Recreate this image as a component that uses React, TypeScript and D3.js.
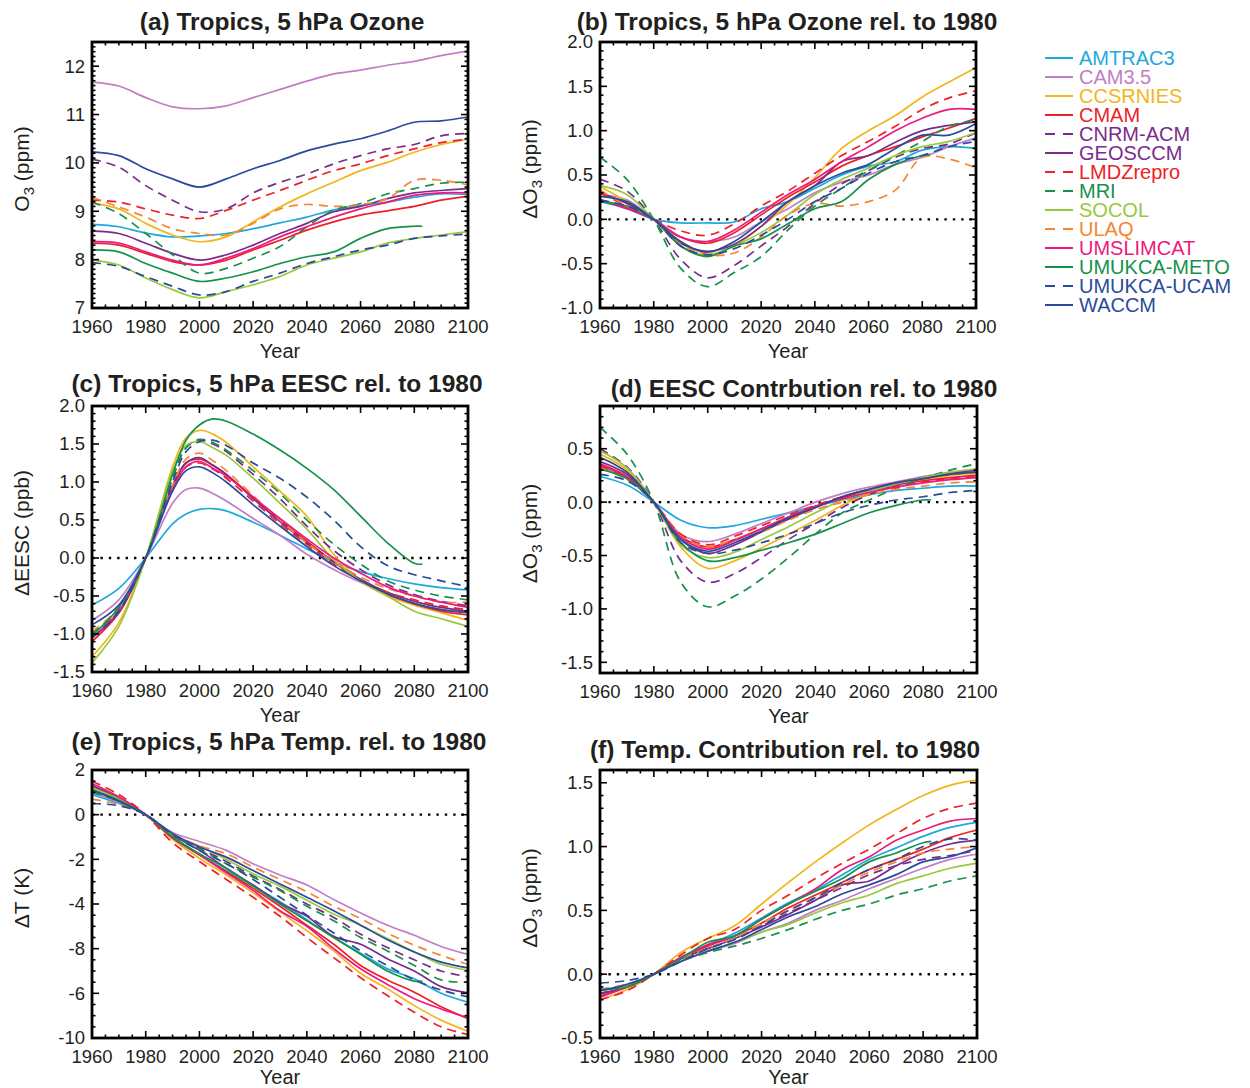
import React from "react";
import * as d3 from "d3";

// ---- data ----
const models = ["AMTRAC3", "CAM3.5", "CCSRNIES", "CMAM", "CNRM-ACM", "GEOSCCM", "LMDZrepro", "MRI", "SOCOL", "ULAQ", "UMSLIMCAT", "UMUKCA-METO", "UMUKCA-UCAM", "WACCM"];
const colors = ["#1ea9dd", "#c27ec5", "#f2b51c", "#ee2028", "#7a2c8b", "#7a2c8b", "#ee2028", "#15924a", "#98c93c", "#f58632", "#ec1a7d", "#15924a", "#2a4b9b", "#2a4b9b"];
const dashed = [false, false, false, false, true, false, true, true, false, true, false, false, true, false];
const shortRun = "UMUKCA-METO"; // this model stops in 2083

const years = [1960, 1970, 1980, 1990, 2000, 2010, 2020, 2030, 2040, 2050, 2060, 2070, 2080, 2090, 2100];
const eescYears = [1960, 1970, 1980, 1990, 1995, 2000, 2005, 2010, 2020, 2030, 2040, 2050, 2060, 2070, 2080, 2090, 2100];

// (a) ozone, ppm
const ozone = [
  [8.73, 8.68, 8.55, 8.47, 8.49, 8.54, 8.64, 8.76, 8.88, 9.03, 9.12, 9.19, 9.29, 9.36, 9.34],
  [11.67, 11.59, 11.35, 11.16, 11.12, 11.18, 11.35, 11.52, 11.69, 11.84, 11.92, 12.02, 12.1, 12.22, 12.31],
  [9.17, 9.05, 8.75, 8.51, 8.37, 8.47, 8.78, 9.09, 9.36, 9.6, 9.84, 10.01, 10.22, 10.38, 10.49],
  [8.34, 8.3, 8.13, 7.96, 7.89, 7.99, 8.2, 8.4, 8.61, 8.78, 8.92, 9.01, 9.1, 9.23, 9.31],
  [10.08, 9.91, 9.53, 9.23, 8.99, 9.05, 9.38, 9.6, 9.77, 9.98, 10.15, 10.29, 10.38, 10.56, 10.61],
  [8.59, 8.54, 8.34, 8.13, 7.99, 8.1, 8.3, 8.54, 8.75, 8.99, 9.1, 9.26, 9.38, 9.43, 9.47],
  [9.23, 9.19, 9.05, 8.92, 8.85, 9.02, 9.23, 9.43, 9.64, 9.84, 9.98, 10.15, 10.29, 10.42, 10.49],
  [9.19, 8.95, 8.54, 8.1, 7.72, 7.82, 8.03, 8.27, 8.68, 9.02, 9.16, 9.36, 9.47, 9.58, 9.6],
  [7.99, 7.89, 7.62, 7.38, 7.21, 7.34, 7.48, 7.65, 7.89, 8.03, 8.16, 8.34, 8.44, 8.51, 8.58],
  [9.29, 9.09, 8.88, 8.64, 8.54, 8.51, 8.75, 9.05, 9.14, 9.1, 9.14, 9.26, 9.64, 9.64, 9.55],
  [8.37, 8.34, 8.16, 7.99, 7.89, 8.03, 8.23, 8.47, 8.68, 8.88, 9.05, 9.19, 9.33, 9.38, 9.38],
  [8.2, 8.16, 7.92, 7.72, 7.55, 7.62, 7.75, 7.92, 8.06, 8.16, 8.44, 8.64, 8.69, 8.69],
  [7.94, 7.86, 7.65, 7.45, 7.27, 7.34, 7.55, 7.72, 7.92, 8.06, 8.2, 8.3, 8.44, 8.49, 8.53],
  [10.23, 10.15, 9.88, 9.67, 9.5, 9.67, 9.88, 10.05, 10.25, 10.39, 10.5, 10.66, 10.84, 10.87, 10.95],
];

// (b) ozone change rel. to 1980, ppm
const ozoneRel = [
  [0.2, 0.12, 0, -0.04, -0.04, -0.03, 0.12, 0.2, 0.35, 0.5, 0.6, 0.65, 0.78, 0.82, 0.8],
  [0.28, 0.22, 0, -0.2, -0.25, -0.2, -0.03, 0.12, 0.3, 0.42, 0.5, 0.62, 0.7, 0.82, 0.92],
  [0.37, 0.2, 0, -0.25, -0.39, -0.3, -0.08, 0.17, 0.47, 0.8, 1.0, 1.17, 1.38, 1.55, 1.71],
  [0.22, 0.13, 0, -0.2, -0.27, -0.15, 0.05, 0.25, 0.42, 0.6, 0.72, 0.82, 0.93, 1.03, 1.14],
  [0.45, 0.32, 0, -0.45, -0.66, -0.52, -0.3, -0.08, 0.18, 0.4, 0.55, 0.7, 0.8, 0.85, 0.98],
  [0.3, 0.18, 0, -0.27, -0.36, -0.28, -0.08, 0.2, 0.38, 0.65, 0.72, 0.87, 1.0, 1.06, 1.1],
  [0.3, 0.15, 0, -0.13, -0.18, -0.05, 0.15, 0.32, 0.52, 0.72, 0.88, 1.05, 1.24, 1.37, 1.45],
  [0.7, 0.45, 0, -0.55, -0.76, -0.6, -0.42, -0.12, 0.15, 0.35, 0.55, 0.72, 0.88, 1.05, 1.12],
  [0.38, 0.28, 0, -0.3, -0.41, -0.3, -0.15, 0.05, 0.28, 0.45, 0.58, 0.72, 0.82, 0.88, 0.98],
  [0.33, 0.15, 0, -0.28, -0.4, -0.38, -0.2, 0.05, 0.18, 0.15, 0.2, 0.33, 0.7, 0.68, 0.58],
  [0.22, 0.12, 0, -0.2, -0.25, -0.12, 0.08, 0.28, 0.45, 0.65, 0.82, 1.0, 1.14, 1.24, 1.24],
  [0.2, 0.15, 0, -0.3, -0.42, -0.3, -0.22, -0.05, 0.12, 0.2, 0.45, 0.62, 0.72, 0.73],
  [0.22, 0.15, 0, -0.3, -0.4, -0.33, -0.18, 0.0, 0.2, 0.35, 0.52, 0.65, 0.72, 0.82, 0.88],
  [0.26, 0.2, 0, -0.25, -0.37, -0.25, -0.03, 0.2, 0.38, 0.52, 0.62, 0.8, 0.95, 0.95, 1.08],
];

// (c) EESC change rel. to 1980, ppb (on eescYears)
const eesc = [
  [-0.62, -0.4, 0, 0.45, 0.58, 0.64, 0.65, 0.62, 0.47, 0.3, 0.12, -0.05, -0.18, -0.27, -0.34, -0.39, -0.42],
  [-0.82, -0.55, 0, 0.72, 0.9, 0.92, 0.85, 0.75, 0.52, 0.3, 0.05, -0.15, -0.32, -0.47, -0.6, -0.68, -0.72],
  [-1.3, -0.85, 0, 1.2, 1.58, 1.68, 1.63, 1.52, 1.2, 0.88, 0.55, 0.05, -0.3, -0.5, -0.62, -0.72, -0.82],
  [-1.1, -0.72, 0, 0.95, 1.25, 1.3, 1.22, 1.1, 0.8, 0.5, 0.22, -0.05, -0.3, -0.48, -0.6, -0.7, -0.75],
  [-1.0, -0.68, 0, 1.05, 1.45, 1.55, 1.5, 1.4, 1.1, 0.78, 0.42, 0.1, -0.15, -0.35, -0.48, -0.57, -0.63],
  [-1.05, -0.72, 0, 0.95, 1.25, 1.32, 1.22, 1.1, 0.78, 0.48, 0.2, -0.05, -0.28, -0.45, -0.57, -0.65, -0.7],
  [-1.05, -0.7, 0, 0.92, 1.2, 1.25, 1.17, 1.05, 0.75, 0.45, 0.18, -0.08, -0.3, -0.45, -0.55, -0.63, -0.68],
  [-1.0, -0.66, 0, 1.05, 1.45, 1.56, 1.52, 1.42, 1.15, 0.85, 0.5, 0.18, -0.08, -0.3, -0.42, -0.5, -0.55],
  [-1.38, -0.9, 0, 1.15, 1.48, 1.53, 1.45, 1.35, 1.05, 0.72, 0.38, -0.02, -0.3, -0.5, -0.7, -0.8, -0.9],
  [-0.97, -0.65, 0, 0.95, 1.3, 1.38, 1.28, 1.15, 0.82, 0.5, 0.2, -0.05, -0.25, -0.4, -0.5, -0.58, -0.58],
  [-1.05, -0.7, 0, 0.9, 1.2, 1.27, 1.18, 1.08, 0.8, 0.52, 0.25, 0.0, -0.2, -0.38, -0.5, -0.58, -0.65],
  [-1.02, -0.65, 0, 1.1, 1.55, 1.75, 1.83, 1.8, 1.63, 1.42, 1.18, 0.9, 0.55, 0.2, -0.07, -0.08],
  [-1.05, -0.7, 0, 1.0, 1.4, 1.53, 1.55, 1.48, 1.25, 1.05, 0.8, 0.5, 0.15, -0.1, -0.22, -0.3, -0.38],
  [-0.88, -0.62, 0, 0.88, 1.15, 1.2, 1.12, 1.0, 0.7, 0.42, 0.15, -0.1, -0.3, -0.47, -0.6, -0.68, -0.72],
];

// (d) EESC contribution to ozone rel. to 1980, ppm
const eescContrib = [
  [0.24, 0.16, 0, -0.17, -0.24, -0.22, -0.16, -0.1, -0.04, 0.02, 0.07, 0.11, 0.13, 0.15, 0.15],
  [0.33, 0.22, 0, -0.3, -0.37, -0.3, -0.2, -0.1, 0.0, 0.08, 0.14, 0.19, 0.24, 0.28, 0.31],
  [0.45, 0.3, 0, -0.42, -0.62, -0.55, -0.43, -0.3, -0.17, -0.03, 0.08, 0.16, 0.21, 0.25, 0.27],
  [0.36, 0.24, 0, -0.32, -0.42, -0.35, -0.25, -0.14, -0.04, 0.04, 0.1, 0.16, 0.2, 0.23, 0.25],
  [0.5, 0.33, 0, -0.55, -0.75, -0.67, -0.52, -0.35, -0.2, -0.05, 0.07, 0.16, 0.22, 0.26, 0.28],
  [0.38, 0.26, 0, -0.35, -0.48, -0.4, -0.28, -0.16, -0.05, 0.05, 0.12, 0.18, 0.23, 0.27, 0.3],
  [0.34, 0.22, 0, -0.3, -0.4, -0.32, -0.22, -0.12, -0.03, 0.05, 0.1, 0.15, 0.19, 0.22, 0.24],
  [0.7, 0.45, 0, -0.75, -0.98, -0.88, -0.72, -0.52, -0.3, -0.1, 0.02, 0.13, 0.22, 0.3, 0.36],
  [0.48, 0.32, 0, -0.4, -0.52, -0.47, -0.35, -0.23, -0.1, 0.02, 0.1, 0.17, 0.23, 0.28, 0.31],
  [0.32, 0.21, 0, -0.32, -0.42, -0.35, -0.28, -0.17, -0.07, 0.0, 0.07, 0.12, 0.15, 0.18, 0.19],
  [0.35, 0.23, 0, -0.33, -0.44, -0.36, -0.25, -0.14, -0.04, 0.03, 0.09, 0.14, 0.18, 0.21, 0.23],
  [0.31, 0.22, 0, -0.38, -0.55, -0.52, -0.45, -0.38, -0.3, -0.2, -0.1, -0.03, 0.02, 0.02],
  [0.26, 0.2, 0, -0.38, -0.48, -0.45, -0.38, -0.3, -0.2, -0.1, -0.03, 0.02, 0.05, 0.09, 0.11],
  [0.42, 0.28, 0, -0.35, -0.46, -0.38, -0.27, -0.15, -0.05, 0.05, 0.12, 0.18, 0.22, 0.26, 0.28],
];

// (e) temperature change rel. to 1980, K
const temp = [
  [0.9, 0.5, 0, -1.0, -1.8, -2.5, -3.2, -3.9, -4.7, -5.5, -6.2, -6.9, -7.35, -8.0, -8.4],
  [1.0, 0.55, 0, -0.8, -1.2, -1.6, -2.2, -2.7, -3.15, -3.8, -4.4, -4.95, -5.4, -5.9, -6.26],
  [1.2, 0.7, 0, -1.1, -1.95, -2.7, -3.5, -4.35, -5.2, -6.1, -7.1, -7.8, -8.55, -9.2, -9.7],
  [1.3, 0.75, 0, -1.05, -1.8, -2.55, -3.3, -4.1, -4.95, -5.8, -6.75, -7.4, -7.95, -8.6, -9.13],
  [1.2, 0.7, 0, -0.9, -1.5, -2.1, -2.75, -3.35, -4.0, -4.6, -5.35, -5.95, -6.5, -7.0, -7.26],
  [1.3, 0.7, 0, -0.9, -1.6, -2.4, -3.15, -3.95, -4.55, -5.45, -5.8, -6.45, -7.0, -7.7, -7.98],
  [1.5, 0.9, 0, -1.25, -2.1, -2.9, -3.7, -4.55, -5.5, -6.4, -7.3, -8.1, -8.85, -9.5, -9.85],
  [1.0, 0.6, 0, -0.9, -1.55, -2.2, -2.8, -3.4, -4.1, -4.75, -5.5, -6.1, -6.75, -7.4, -7.5],
  [1.2, 0.7, 0, -0.9, -1.4, -2.0, -2.65, -3.2, -3.83, -4.45, -4.95, -5.55, -6.15, -6.7, -6.97],
  [0.7, 0.45, 0, -0.85, -1.4, -1.75, -2.35, -2.9, -3.45, -4.1, -4.65, -5.3, -5.85, -6.3, -6.71],
  [1.4, 0.8, 0, -1.0, -1.8, -2.6, -3.4, -4.3, -5.0, -6.0, -6.9, -7.6, -8.24, -8.7, -9.1],
  [1.1, 0.65, 0, -1.0, -1.75, -2.4, -3.2, -4.0, -4.75, -5.5, -6.25, -7.0, -7.45, -7.45],
  [0.5, 0.4, 0, -0.9, -1.6, -2.2, -2.9, -3.7, -4.5, -5.3, -6.1, -6.75, -7.4, -7.85, -8.16],
  [1.1, 0.6, 0, -0.85, -1.45, -1.9, -2.5, -3.1, -3.7, -4.3, -4.95, -5.6, -6.15, -6.6, -6.86],
];
// the figure's y labels for -6 and -8 are printed swapped; kept as drawn
const tempTicks = [-10, -8, -6, -4, -2, 0, 2];
const tempTickLabels = ["-10", "-6", "-8", "-4", "-2", "0", "2"];

// (f) temperature contribution to ozone rel. to 1980, ppm
const tempContrib = [
  [-0.15, -0.1, 0, 0.13, 0.23, 0.32, 0.44, 0.56, 0.66, 0.78, 0.9, 0.99, 1.08, 1.15, 1.19],
  [-0.15, -0.1, 0, 0.1, 0.18, 0.24, 0.33, 0.4, 0.5, 0.58, 0.67, 0.75, 0.83, 0.9, 0.94],
  [-0.2, -0.12, 0, 0.17, 0.28, 0.38, 0.55, 0.72, 0.88, 1.03, 1.17, 1.29, 1.4, 1.48, 1.52],
  [-0.17, -0.1, 0, 0.13, 0.22, 0.3, 0.4, 0.52, 0.62, 0.72, 0.82, 0.9, 0.98, 1.07, 1.13],
  [-0.15, -0.1, 0, 0.12, 0.2, 0.28, 0.38, 0.48, 0.58, 0.68, 0.78, 0.85, 0.9, 0.93, 0.97],
  [-0.15, -0.1, 0, 0.12, 0.2, 0.28, 0.37, 0.47, 0.58, 0.7, 0.73, 0.85, 0.95, 1.02, 1.05],
  [-0.2, -0.13, 0, 0.15, 0.28, 0.35, 0.5, 0.62, 0.75, 0.87, 0.98, 1.1, 1.22, 1.3, 1.34],
  [-0.12, -0.08, 0, 0.1, 0.17, 0.22, 0.28, 0.35, 0.43, 0.5, 0.55, 0.62, 0.67, 0.73, 0.77],
  [-0.13, -0.09, 0, 0.1, 0.18, 0.25, 0.33, 0.39, 0.48, 0.56, 0.62, 0.71, 0.77, 0.83, 0.87],
  [-0.12, -0.08, 0, 0.12, 0.2, 0.28, 0.4, 0.5, 0.6, 0.7, 0.8, 0.88, 0.95, 0.98, 1.0],
  [-0.18, -0.1, 0, 0.13, 0.23, 0.3, 0.43, 0.55, 0.67, 0.82, 0.92, 1.05, 1.13, 1.2, 1.22],
  [-0.12, -0.1, 0, 0.12, 0.25, 0.3, 0.43, 0.55, 0.65, 0.75, 0.88, 0.95, 1.03, 1.04],
  [-0.07, -0.05, 0, 0.1, 0.2, 0.27, 0.38, 0.5, 0.6, 0.72, 0.82, 0.9, 1.0, 1.06, 1.05],
  [-0.13, -0.08, 0, 0.1, 0.18, 0.25, 0.35, 0.45, 0.53, 0.63, 0.7, 0.78, 0.88, 0.92, 0.99],
];

const FONT = "'Liberation Sans', Arial, Helvetica, sans-serif";
const INK = "#231f20";

type Panel = {
  id: string;
  title: string;
  titleX: number;
  titleY: number;
  left: number;
  top: number;
  width: number;
  height: number;
  domain: [number, number];
  ticks: number[];
  labels: string[];
  minor: number;
  yl: string[]; // [prefix, subscript, suffix]
  xs: number[];
  rows: number[][];
  zero: boolean;
};

const f1 = d3.format(".1f");
const oneDec = (t: number[]) => t.map((v) => f1(v).replace("−", "-"));

const panels: Panel[] = [
  { id: "a", title: "(a) Tropics, 5 hPa Ozone", titleX: 282, titleY: 30, left: 92, top: 42, width: 376, height: 266, domain: [7, 12.5], ticks: [7, 8, 9, 10, 11, 12], labels: ["7", "8", "9", "10", "11", "12"], minor: 0.1, yl: ["O", "3", " (ppm)"], xs: years, rows: ozone, zero: false },
  { id: "b", title: "(b) Tropics, 5 hPa Ozone rel. to 1980", titleX: 787, titleY: 30, left: 600, top: 42, width: 376, height: 266, domain: [-1, 2], ticks: [-1, -0.5, 0, 0.5, 1, 1.5, 2], labels: oneDec([-1, -0.5, 0, 0.5, 1, 1.5, 2]), minor: 0.1, yl: ["ΔO", "3", " (ppm)"], xs: years, rows: ozoneRel, zero: true },
  { id: "c", title: "(c) Tropics, 5 hPa EESC rel. to 1980", titleX: 277, titleY: 392, left: 92, top: 406, width: 376, height: 266, domain: [-1.5, 2], ticks: [-1.5, -1, -0.5, 0, 0.5, 1, 1.5, 2], labels: oneDec([-1.5, -1, -0.5, 0, 0.5, 1, 1.5, 2]), minor: 0.1, yl: ["ΔEESC (ppb)", "", ""], xs: eescYears, rows: eesc, zero: true },
  { id: "d", title: "(d) EESC Contrbution rel. to 1980", titleX: 804, titleY: 397, left: 600, top: 406, width: 377, height: 267, domain: [-1.6, 0.9], ticks: [-1.5, -1, -0.5, 0, 0.5], labels: oneDec([-1.5, -1, -0.5, 0, 0.5]), minor: 0.1, yl: ["ΔO", "3", " (ppm)"], xs: years, rows: eescContrib, zero: true },
  { id: "e", title: "(e) Tropics, 5 hPa Temp. rel. to 1980", titleX: 279, titleY: 750, left: 92, top: 770, width: 376, height: 268, domain: [-10, 2], ticks: tempTicks, labels: tempTickLabels, minor: 0.5, yl: ["ΔT (K)", "", ""], xs: years, rows: temp, zero: true },
  { id: "f", title: "(f) Temp. Contribution rel. to 1980", titleX: 785, titleY: 758, left: 600, top: 770, width: 377, height: 268, domain: [-0.5, 1.6], ticks: [-0.5, 0, 0.5, 1, 1.5], labels: oneDec([-0.5, 0, 0.5, 1, 1.5]), minor: 0.1, yl: ["ΔO", "3", " (ppm)"], xs: years, rows: tempContrib, zero: true },
];

const xMajor = d3.range(1960, 2101, 20);
const xMinor = d3.range(1960, 2101, 5);

function PanelView({ p }: { p: Panel }) {
  const x = d3.scaleLinear().domain([1960, 2100]).range([p.left, p.left + p.width]);
  const y = d3.scaleLinear().domain(p.domain).range([p.top + p.height, p.top]);
  const line = d3
    .line<[number, number]>()
    .x((d) => x(d[0]))
    .y((d) => y(d[1]))
    .curve(d3.curveCatmullRom.alpha(0.5));

  const [lo, hi] = p.domain;
  const nMinor = Math.round((hi - lo) / p.minor);
  const yMinor = d3.range(0, nMinor + 1).map((i) => lo + i * p.minor);
  const bottom = p.top + p.height;
  const right = p.left + p.width;
  const major = 7;
  const small = 3.5;
  const clipId = `clip-${p.id}`;
  const yMid = p.top + p.height / 2 - 6;
  const yearY = Math.min(bottom + 50, 1084);

  return (
    <g>
      <defs>
        <clipPath id={clipId}>
          <rect x={p.left} y={p.top} width={p.width} height={p.height} />
        </clipPath>
      </defs>
      <text x={p.titleX} y={p.titleY} textAnchor="middle" fontWeight="bold" fontSize={24.5} fill={INK}>
        {p.title}
      </text>

      {p.zero && (
        <line x1={p.left} x2={right} y1={y(0)} y2={y(0)} stroke="#000" strokeWidth={2.4} strokeDasharray="2.4,6" />
      )}

      <g clipPath={`url(#${clipId})`}>
        {p.rows.map((row, i) => {
          const xs = models[i] === shortRun ? p.xs.filter((v) => v <= 2080).concat([2083]) : p.xs;
          const pts = row.map((v, k) => [xs[k], v] as [number, number]);
          return (
            <path
              key={models[i]}
              d={line(pts) || ""}
              fill="none"
              stroke={colors[i]}
              strokeWidth={1.7}
              strokeDasharray={dashed[i] ? "9,6" : undefined}
            />
          );
        })}
      </g>

      {/* ticks on all four sides, pointing inward */}
      <g stroke="#000" strokeWidth={1.6}>
        {xMinor.map((t) => {
          const len = xMajor.includes(t) ? major : small;
          return (
            <g key={`x${t}`}>
              <line x1={x(t)} x2={x(t)} y1={bottom} y2={bottom - len} />
              <line x1={x(t)} x2={x(t)} y1={p.top} y2={p.top + len} />
            </g>
          );
        })}
        {yMinor.map((t, i) => {
          const isMajor = p.ticks.some((m) => Math.abs(m - t) < 1e-6);
          const len = isMajor ? major : small;
          return (
            <g key={`y${i}`}>
              <line x1={p.left} x2={p.left + len} y1={y(t)} y2={y(t)} />
              <line x1={right} x2={right - len} y1={y(t)} y2={y(t)} />
            </g>
          );
        })}
      </g>
      <rect x={p.left} y={p.top} width={p.width} height={p.height} fill="none" stroke="#000" strokeWidth={2.8} />

      <g fontSize={18.5} fill={INK}>
        {xMajor.map((t) => (
          <text key={t} x={x(t)} y={bottom + 25} textAnchor="middle">
            {t}
          </text>
        ))}
        {p.ticks.map((t, i) => (
          <text key={i} x={p.left - 7} y={y(t)} dy="0.35em" textAnchor="end">
            {p.labels[i]}
          </text>
        ))}
      </g>

      <text x={p.left + p.width / 2} y={yearY} textAnchor="middle" fontSize={20} fill={INK}>
        Year
      </text>
      <text
        transform={`translate(${p.left - 63},${yMid}) rotate(-90)`}
        textAnchor="middle"
        fontSize={21}
        fill={INK}
      >
        {p.yl[0]}
        {p.yl[1] && (
          <tspan dy={5} fontSize={15}>
            {p.yl[1]}
          </tspan>
        )}
        {p.yl[2] && <tspan dy={-5}>{p.yl[2]}</tspan>}
      </text>
    </g>
  );
}

function Legend() {
  const x0 = 1045;
  const y0 = 58;
  const step = 19;
  return (
    <g>
      {models.map((m, i) => (
        <g key={m}>
          <line
            x1={x0}
            x2={x0 + 28}
            y1={y0 + i * step}
            y2={y0 + i * step}
            stroke={colors[i]}
            strokeWidth={2}
            strokeDasharray={dashed[i] ? "10,8" : undefined}
          />
          <text x={x0 + 34} y={y0 + i * step} dy="0.35em" fontSize={20} fill={colors[i]}>
            {m}
          </text>
        </g>
      ))}
    </g>
  );
}

export default function App() {
  return (
    <svg
      width={1250}
      height={1088}
      style={{ position: "absolute", left: 0, top: 0, background: "#fff" }}
      fontFamily={FONT}
    >
      {panels.map((p) => (
        <PanelView key={p.id} p={p} />
      ))}
      <Legend />
    </svg>
  );
}
